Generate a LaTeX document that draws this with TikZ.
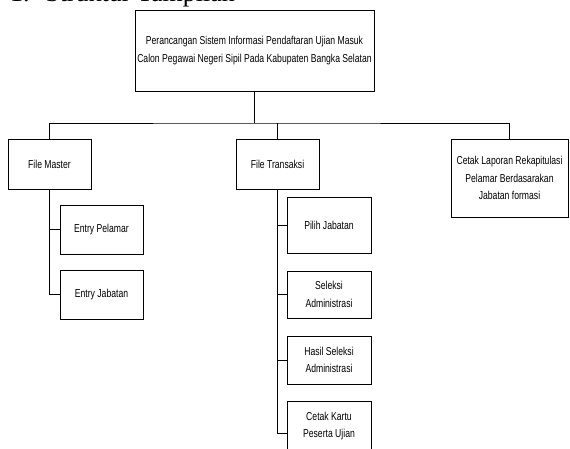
\documentclass[tikz,border=0pt]{standalone}
\usepackage{fontspec}
\setmainfont{Liberation Serif}
\newfontfamily\narrowfont{Liberation Sans}[FakeStretch=0.75]
\usetikzlibrary{calc}
\tikzset{
  menubox/.style={draw, line width=0.8pt, align=center, inner sep=0pt,
    font=\narrowfont\fontsize{11.5}{17.5}\selectfont},
  link/.style={line width=0.8pt},
}
\begin{document}
\begin{tikzpicture}[x=1pt, y=-1pt]
\useasboundingbox (0,0) rectangle (570,449);
\clip (0,0) rectangle (570,449);

% section heading, mostly above the top edge
\node[anchor=base west, inner sep=0pt, font=\fontsize{26}{30}\selectfont] (heading) at (10,1.5) {1.\hspace{0.6em}Struktur Tampilan};

% root
\node[menubox, minimum width=239pt, minimum height=81pt] (top) at (254.5,50.5)
  {Perancangan Sistem Informasi Pendaftaran Ujian Masuk\\Calon Pegawai Negeri Sipil Pada Kabupaten Bangka Selatan};

% first level
\node[menubox, minimum width=83pt, minimum height=50pt] (fm) at (49.5,164) {File Master};
\node[menubox, minimum width=83pt, minimum height=50pt] (ft) at (277.5,164) {File Transaksi};
\node[menubox, minimum width=117pt, minimum height=78pt] (cl) at (509.5,178)
  {Cetak Laporan Rekapitulasi\\Pelamar Berdasarakan\\Jabatan formasi};

% File Master items
\node[menubox, minimum width=83pt, minimum height=49pt] (ep) at (101.5,229.5) {Entry Pelamar};
\node[menubox, minimum width=83pt, minimum height=49pt] (ej) at (101.5,294.5) {Entry Jabatan};

% File Transaksi items
\node[menubox, minimum width=84pt, minimum height=56pt] (pj) at (329,225) {Pilih Jabatan};
\node[menubox, minimum width=84pt, minimum height=47pt] (sa) at (329,294.5) {Seleksi\\Administrasi};
\node[menubox, minimum width=84pt, minimum height=48pt] (hs) at (329,360) {Hasil Seleksi\\Administrasi};
\node[menubox, minimum width=84pt, minimum height=50pt] (ck) at (329,426) {Cetak Kartu\\Peserta Ujian};

% connectors
\coordinate (bus) at (254.5,123);
\draw[link] (top.south) -- (bus);
\draw[link] (fm.north) |- (bus) -| (cl.north);
\draw[link] (ft.north) -- (ft.north |- bus);

\draw[link] (fm.south) |- (ej.west);
\draw[link] (fm.south |- ep.west) -- (ep.west);

\coordinate (ckjoin) at ($(ck.west)+(0,7)$);
\draw[link] (ft.south) |- (ckjoin);
\draw[link] (ft.south |- pj.west) -- (pj.west);
\draw[link] (ft.south |- sa.west) -- (sa.west);
\draw[link] (ft.south |- hs.west) -- (hs.west);
\end{tikzpicture}
\end{document}
